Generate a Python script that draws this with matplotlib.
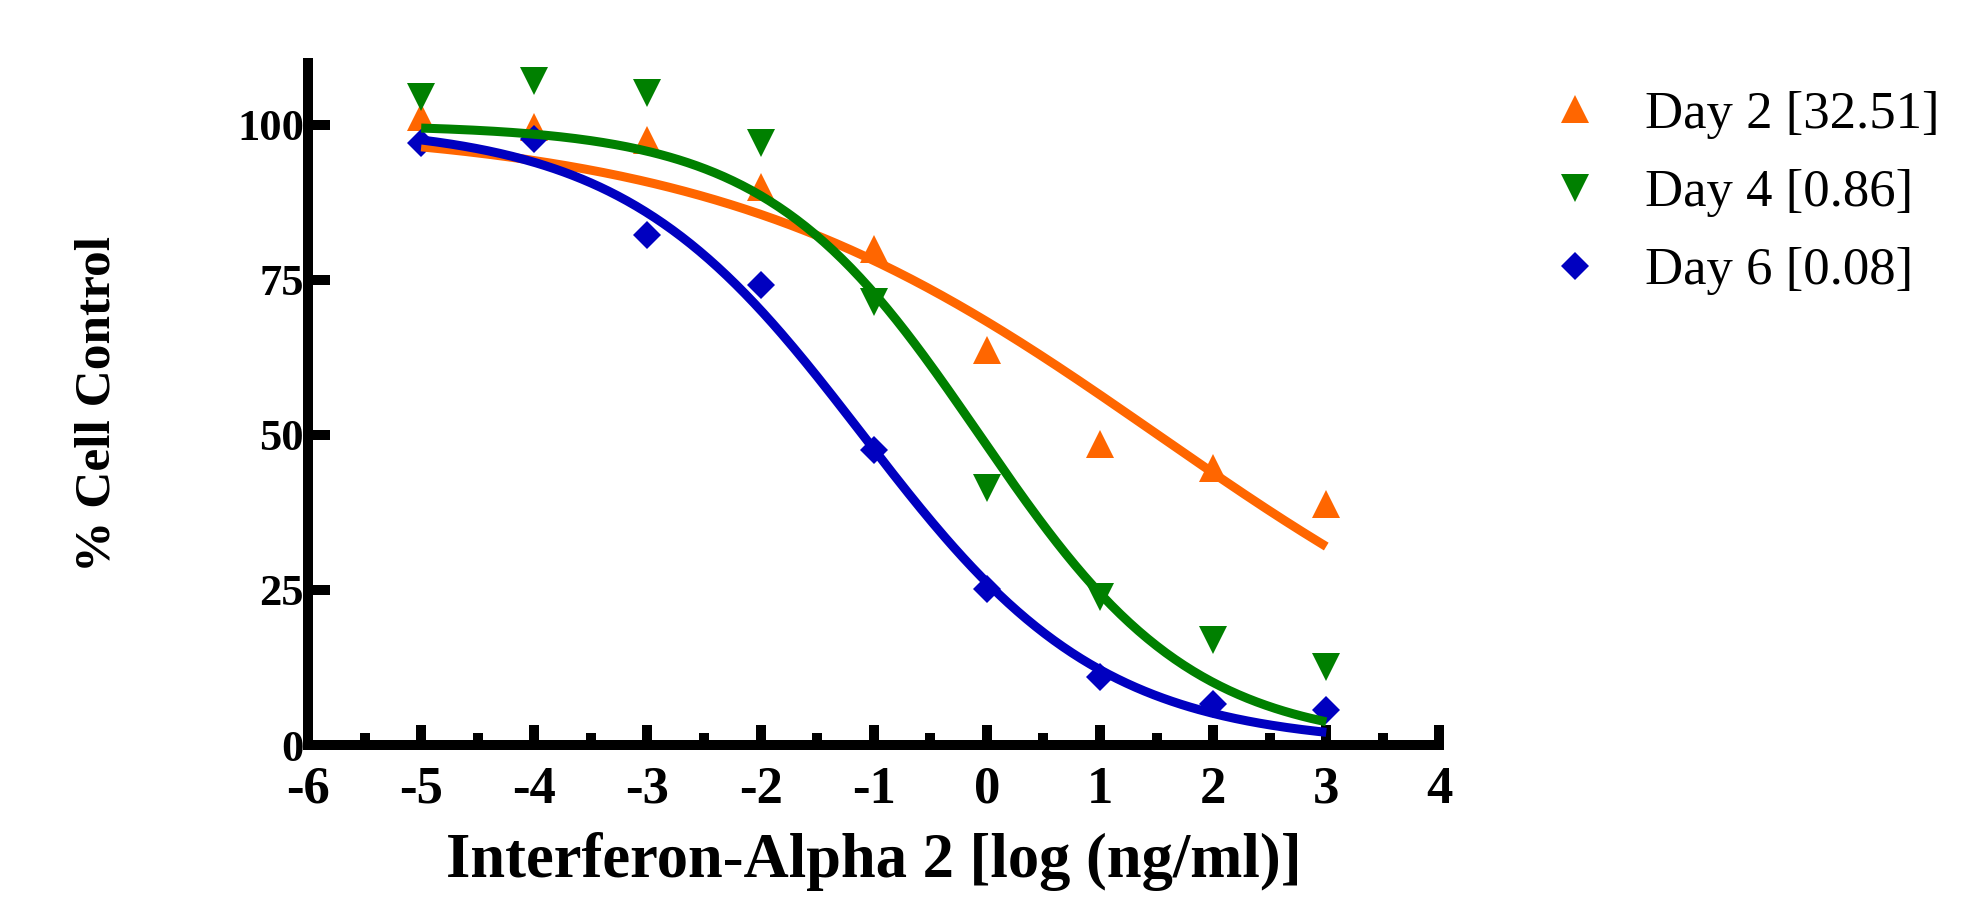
import numpy as np
import matplotlib
matplotlib.use("Agg")
import matplotlib.pyplot as plt

# ---------------- data ----------------
log_dose = [-5, -4, -3, -2, -1, 0, 1, 2, 3]
day2 = [101.2, 99.6, 97.6, 90.0, 80.0, 63.7, 48.6, 44.6, 38.8]
day4 = [104.4, 107.1, 105.1, 97.1, 71.5, 41.5, 23.9, 16.9, 12.6]
day6 = [97.1, 97.7, 82.2, 74.1, 47.6, 25.2, 11.0, 6.6, 5.6]

labels = ["Day 2 [32.51]", "Day 4 [0.86]", "Day 6 [0.08]"]
ic50 = [32.51, 0.86, 0.08]          # ng/ml, from the legend
fit_top = [100.0, 100.0, 100.0]     # 4PL fit parameters
fit_bottom = [0.0, 0.0, 0.0]
fit_hill = [0.22, 0.46, 0.41]
fit_range = [-5, 3]

xticks = [-6, -5, -4, -3, -2, -1, 0, 1, 2, 3, 4]
yticks = [0, 25, 50, 75, 100]

colors = ["#FF6600", "#008000", "#0000C0"]
markers = ["^", "v", "D"]
msizes = [20.5, 20.5, 14.6]

# ---------------- figure ----------------
plt.rcParams["font.family"] = ["Liberation Serif", "DejaVu Serif"]
plt.rcParams["axes.unicode_minus"] = False

fig = plt.figure(figsize=(19.81, 9.0), dpi=100)
ax = fig.add_axes([0.1555, 0.1722, 0.5711, 0.7581])

series = [day2, day4, day6]
handles = []
for vals, c, m, ms, lab in zip(series, colors, markers, msizes, labels):
    h, = ax.plot(log_dose, vals, ls="none", marker=m, ms=ms, color=c,
                 mec=c, mew=0, label=lab, zorder=3, clip_on=False)
    handles.append(h)

xs = np.linspace(fit_range[0], fit_range[1], 300)
for top, bot, hill, ic, c in zip(fit_top, fit_bottom, fit_hill, ic50, colors):
    curve = bot + (top - bot) / (1 + 10 ** ((xs - np.log10(ic)) * hill))
    ax.plot(xs, curve, color=c, lw=6.5, solid_capstyle="butt", zorder=4)

ax.set_xlim(-6, 4)
ax.set_ylim(0, 110)

for s in ["top", "right"]:
    ax.spines[s].set_visible(False)
for s in ["left", "bottom"]:
    ax.spines[s].set_linewidth(7.2)
    ax.spines[s].set_color("black")

ax.set_xticks(xticks)
ax.set_xticklabels([str(v) for v in xticks])
ax.set_xticks(np.arange(-5.5, 4.0, 1.0), minor=True)
ax.set_yticks(yticks)
ax.set_yticklabels([str(v) for v in yticks])

ax.tick_params(axis="x", which="major", direction="in", length=14.5, width=7.2,
               pad=15, labelsize=38)
ax.tick_params(axis="x", which="minor", direction="in", length=8.6, width=7.2)
ax.tick_params(axis="y", which="major", direction="in", length=16, width=7.2,
               pad=3, labelsize=32)
for t in ax.get_xticklabels() + ax.get_yticklabels():
    t.set_fontweight("bold")

ax.set_xlabel("Interferon-Alpha 2 [log (ng/ml)]", fontsize=45,
              fontweight="bold", labelpad=13)
ax.set_ylabel("% Cell Control", fontsize=37, fontweight="bold", labelpad=84)

leg = fig.legend(handles=handles, loc="upper left",
                 bbox_to_anchor=(0.7817, 0.899), frameon=False,
                 fontsize=38, numpoints=1, handlelength=1.0,
                 handletextpad=0.82, labelspacing=0.57,
                 borderpad=0, borderaxespad=0)

fig.savefig("out.png", dpi=100)
